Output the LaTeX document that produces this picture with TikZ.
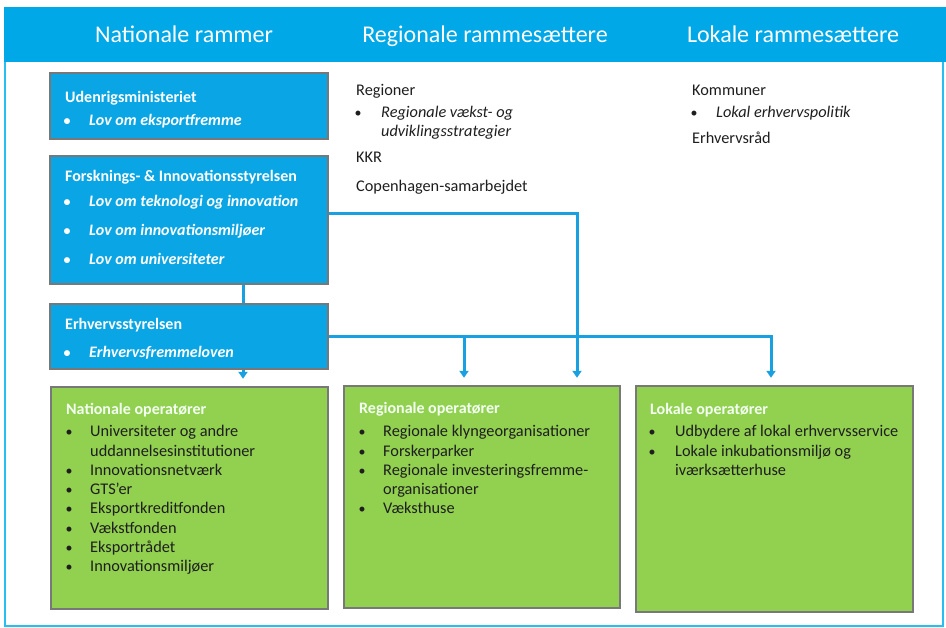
\documentclass[tikz,border=0pt]{standalone}
\usepackage{fontspec}
\setmainfont{Carlito}
\usetikzlibrary{arrows.meta,calc}
\definecolor{hdrblue}{RGB}{0,168,232}
\definecolor{framecyan}{RGB}{40,190,240}
\definecolor{boxblue}{RGB}{10,165,228}
\definecolor{boxgreen}{RGB}{146,208,80}
\definecolor{bordergray}{RGB}{120,120,120}
\definecolor{linkblue}{RGB}{25,160,225}
\definecolor{darktext}{RGB}{30,30,30}
\begin{document}
\begin{tikzpicture}[x=1pt,y=-1pt,
  box/.style={rectangle,draw=bordergray,line width=2.4pt,inner sep=0pt},
  bluebox/.style={box,fill=boxblue},
  greenbox/.style={box,fill=boxgreen},
  hdr/.style={anchor=base,inner sep=0pt,font=\fontsize{24}{28}\selectfont,text=white},
  btitle/.style={anchor=base west,inner sep=0pt,font=\fontsize{16}{19.2}\selectfont\bfseries,text=white},
  bitem/.style={anchor=base west,inner sep=0pt,font=\fontsize{16}{19.2}\selectfont\bfseries\itshape,text=white},
  bbul/.style={anchor=base,inner sep=0pt,font=\fontsize{14}{16}\selectfont\bfseries,text=white},
  gtitle/.style={anchor=base west,inner sep=0pt,font=\fontsize{16}{19.2}\selectfont\bfseries,text=white!95!green},
  gitem/.style={anchor=base west,inner sep=0pt,font=\fontsize{16.3}{19.2}\selectfont,text=darktext},
  gbul/.style={anchor=base,inner sep=0pt,font=\fontsize{14}{16}\selectfont,text=darktext},
  ptxt/.style={anchor=base west,inner sep=0pt,font=\fontsize{16.3}{19.2}\selectfont,text=darktext},
  pitem/.style={anchor=base west,inner sep=0pt,font=\fontsize{16.3}{19.2}\selectfont\itshape,text=darktext},
  link/.style={draw=linkblue,line width=3pt},
  arr/.style={link,-{Triangle[width=9pt,length=7pt]},shorten >=7pt}
]
\useasboundingbox (0,0) rectangle (946,628);
% frame and header
\draw[draw=framecyan,line width=2.5pt] (5,8) rectangle (943,626);
\fill[hdrblue] (4,7) rectangle (946,62);
\node[hdr] (h1) at (184,43) {Nationale rammer};
\node[hdr] (h2) at (485,43) {Regionale rammesættere};
\node[hdr] (h3) at (793,43) {Lokale rammesættere};

% blue boxes
\node[bluebox,minimum width=278pt,minimum height=66pt] (udenrigs) at (189,106) {};
\node[bluebox,minimum width=278pt,minimum height=128pt] (forsk) at (189,220) {};
\node[bluebox,minimum width=278pt,minimum height=65pt] (erhverv) at (189,336.5) {};

% green boxes
\node[greenbox,minimum width=277pt,minimum height=222pt] (natop) at (189.5,498) {};
\node[greenbox,minimum width=276pt,minimum height=222pt] (regop) at (482,497) {};
\node[greenbox,minimum width=277pt,minimum height=226pt] (lokop) at (774.5,499) {};

% texts in blue boxes
\node[btitle] (t1) at (65,103) {Udenrigsministeriet};
\node[bbul] (b1) at (67,126) {•};
\node[bitem] (i1) at (89,126) {Lov om eksportfremme};

\node[btitle] (t2) at (65,182) {Forsknings- \& Innovationsstyrelsen};
\node[bbul] (b2a) at (67,207) {•};
\node[bitem] (i2a) at (89,207) {Lov om teknologi og innovation};
\node[bbul] (b2b) at (67,236) {•};
\node[bitem] (i2b) at (89,236) {Lov om innovationsmiljøer};
\node[bbul] (b2c) at (67,265) {•};
\node[bitem] (i2c) at (89,265) {Lov om universiteter};

\node[btitle] (t3) at (65,330) {Erhvervsstyrelsen};
\node[bbul] (b3) at (67,358) {•};
\node[bitem] (i3) at (89,358) {Erhvervsfremmeloven};

% middle column plain text
\node[ptxt] (m1) at (356,96) {Regioner};
\node[gbul] (mb1) at (358,118) {•};
\node[pitem] (m2) at (381,118) {Regionale vækst- og};
\node[pitem] (m3) at (381,137) {udviklingsstrategier};
\node[ptxt] (m4) at (356,163) {KKR};
\node[ptxt] (m5) at (356,192) {Copenhagen-samarbejdet};

% right column plain text
\node[ptxt] (r1) at (692,96) {Kommuner};
\node[gbul] (rb1) at (694,118) {•};
\node[pitem] (r2) at (716,118) {Lokal erhvervspolitik};
\node[ptxt] (r3) at (692,144) {Erhvervsråd};

% Nationale operatører
\node[gtitle] (nt) at (66,415) {Nationale operatører};
\node[gbul] (nb1) at (69,437) {•};
\node[gitem] (n1) at (90,437) {Universiteter og andre};
\node[gitem] (n1b) at (90,456.2) {uddannelsesinstitutioner};
\node[gbul] (nb2) at (69,475.4) {•};
\node[gitem] (n2) at (90,475.4) {Innovationsnetværk};
\node[gbul] (nb3) at (69,494.6) {•};
\node[gitem] (n3) at (90,494.6) {GTS’er};
\node[gbul] (nb4) at (69,513.8) {•};
\node[gitem] (n4) at (90,513.8) {Eksportkreditfonden};
\node[gbul] (nb5) at (69,533) {•};
\node[gitem] (n5) at (90,533) {Vækstfonden};
\node[gbul] (nb6) at (69,552.2) {•};
\node[gitem] (n6) at (90,552.2) {Eksportrådet};
\node[gbul] (nb7) at (69,571.4) {•};
\node[gitem] (n7) at (90,571.4) {Innovationsmiljøer};

% Regionale operatører
\node[gtitle] (gt) at (359,414) {Regionale operatører};
\node[gbul] (gb1) at (362,437) {•};
\node[gitem] (g1) at (383,437) {Regionale klyngeorganisationer};
\node[gbul] (gb2) at (362,456.2) {•};
\node[gitem] (g2) at (383,456.2) {Forskerparker};
\node[gbul] (gb3) at (362,475.4) {•};
\node[gitem] (g3) at (383,475.4) {Regionale investeringsfremme-};
\node[gitem] (g3b) at (383,494.6) {organisationer};
\node[gbul] (gb4) at (362,513.8) {•};
\node[gitem] (g4) at (383,513.8) {Væksthuse};

% Lokale operatører
\node[gtitle] (lt) at (650,415) {Lokale operatører};
\node[gbul] (lb1) at (652,437) {•};
\node[gitem] (l1) at (675,437) {Udbydere af lokal erhvervsservice};
\node[gbul] (lb2) at (652,456.2) {•};
\node[gitem] (l2) at (675,456.2) {Lokale inkubationsmiljø og};
\node[gitem] (l2b) at (675,475.4) {iværksætterhuse};

% connectors
\coordinate (xa) at (243,0);
\coordinate (xb) at (464,0);
\coordinate (xc) at (577,0);
\coordinate (xd) at (771,0);
\coordinate (ya) at (0,214);
\coordinate (yb) at (0,337);
\coordinate (br) at (xb |- yb);
\draw[link] (forsk.south -| xa) -- (erhverv.north -| xa);
\draw[arr] (erhverv.south -| xa) -- (natop.north -| xa);
\draw[arr] (forsk.east |- ya) -| (regop.north -| xc);
\draw[arr] (erhverv.east |- yb) -| (lokop.north -| xd);
\draw[arr] (br) -- (regop.north -| xb);
\end{tikzpicture}
\end{document}
